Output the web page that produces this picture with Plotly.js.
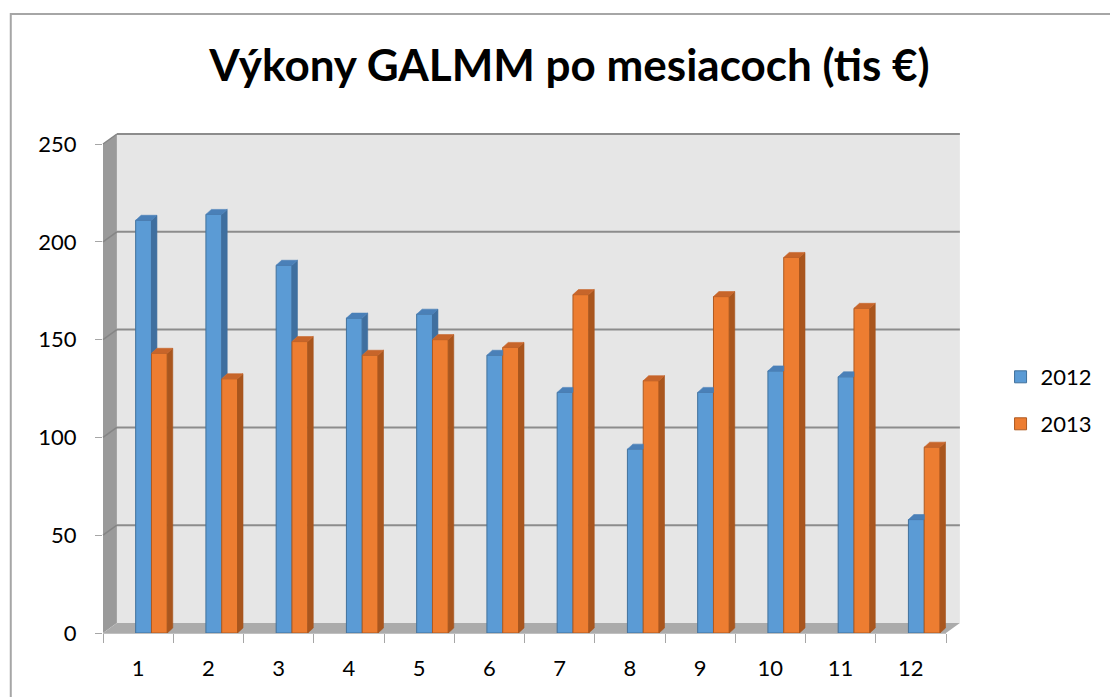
<!DOCTYPE html>
<html>
<head>
<meta charset="utf-8">
<script src="https://cdn.plot.ly/plotly-3.0.1.min.js"></script>
<style>html,body{margin:0;padding:0;background:#fff;}#chart{width:1110px;height:697px;}</style>
</head>
<body>
<div id="chart"></div>
<script>
// ---- data ----
const months = ['1','2','3','4','5','6','7','8','9','10','11','12'];
const sales2012 = [211, 214, 188, 161, 163, 142, 123, 94, 123, 134, 131, 58];
const sales2013 = [143, 130, 149, 142, 150, 146, 173, 129, 172, 192, 166, 95];
const seriesNames = ['2012', '2013'];
const yTicks = [0, 50, 100, 150, 200, 250];
const chartTitle = 'Výkony GALMM po mesiacoch (tis €)';

// ---- geometry (pixels) ----
const L = 103, R = 953, T = 144, B = 633;       // front plot area
const W = R - L, H = B - T;
const wallDX = 14, wallDY = 10;                 // depth of walls
const px = x => (x - L) / W;
const py = y => (B - y) / H;
const yMax = 250;

// bar geometry in data units
const barW = 0.225, off12 = -0.035, off13 = off12 + barW;
const dX = 0.078, dY = 2.56;

const font = 'Lato, "Open Sans", sans-serif';
const c12 = {front: '#5b9bd5', edge: '#41719c', side: '#3f6f9f', top: '#4a80b8'};
const c13 = {front: '#ed7d31', edge: '#ae5a21', side: '#a9561e', top: '#c7652a'};

function sidePoly(vals, off, lowerVals) {
  const xs = [], ys = [];
  vals.forEach((v, i) => {
    const x0 = i + off + barW;
    let lo = 0;
    if (lowerVals) { lo = lowerVals[i]; if (v <= lo) return; }
    xs.push(x0, x0 + dX, x0 + dX, x0, x0, null);
    ys.push(lo, lo + dY, v + dY, v, lo, null);
  });
  return {xs, ys};
}
function topPoly(vals, off, rightVals) {
  const xs = [], ys = [];
  vals.forEach((v, i) => {
    const x0 = i + off, x1 = x0 + barW;
    if (rightVals && rightVals[i] > v) {
      xs.push(x0, x0 + dX, x1, x1, x0, null);
      ys.push(v, v + dY, v + dY, v, v, null);
    } else {
      xs.push(x0, x0 + dX, x1 + dX, x1, x0, null);
      ys.push(v, v + dY, v + dY, v, v, null);
    }
  });
  return {xs, ys};
}

const s12 = sidePoly(sales2012, off12, sales2013);
const t12 = topPoly(sales2012, off12, sales2013);
const s13 = sidePoly(sales2013, off13, null);
const t13 = topPoly(sales2013, off13, null);

function poly(p, col) {
  return {type: 'scatter', mode: 'lines', x: p.xs, y: p.ys, xaxis: 'x2', yaxis: 'y',
    fill: 'toself', fillcolor: col, line: {color: col, width: 0.6},
    showlegend: false, hoverinfo: 'skip', connectgaps: false};
}

const traces = [
  {type: 'bar', name: seriesNames[0], x: months, y: sales2012, offset: off12, width: barW,
   marker: {color: c12.front, line: {color: c12.edge, width: 1}}, legend: 'legend'},
  {type: 'bar', name: seriesNames[1], x: months, y: sales2013, offset: off13, width: barW,
   marker: {color: c13.front, line: {color: c13.edge, width: 1}}, legend: 'legend2'},
  poly(s12, c12.side), poly(t12, c12.top),
  poly(s13, c13.side), poly(t13, c13.top)
];

// ---- walls & gridlines ----
const shapes = [];
shapes.push({type: 'rect', xref: 'paper', yref: 'paper', x0: px(117), x1: px(R + wallDX), y0: py(B - wallDY), y1: py(T - wallDY),
  fillcolor: '#e6e6e6', line: {width: 0}, layer: 'below'});
shapes.push({type: 'path', xref: 'paper', yref: 'paper', layer: 'below',
  path: `M${px(L)},${py(T)} L${px(L + wallDX)},${py(T - wallDY)} L${px(L + wallDX)},${py(B - wallDY)} L${px(L)},${py(B)} Z`,
  fillcolor: '#9a9a9a', line: {width: 0}});
shapes.push({type: 'path', xref: 'paper', yref: 'paper', layer: 'below',
  path: `M${px(L)},${py(B)} L${px(L + wallDX)},${py(B - wallDY)} L${px(R + wallDX)},${py(B - wallDY)} L${px(R)},${py(B)} Z`,
  fillcolor: '#ababab', line: {width: 0}});
yTicks.forEach(v => {
  if (v === 0) return;
  const yf = B - v * H / yMax, yb = yf - wallDY;
  shapes.push({type: 'line', xref: 'paper', yref: 'paper', layer: 'below',
    x0: px(L + wallDX), x1: px(R + wallDX), y0: py(yb), y1: py(yb), line: {color: '#8c8c8c', width: 2}});
  shapes.push({type: 'line', xref: 'paper', yref: 'paper', layer: 'below',
    x0: px(L), x1: px(L + wallDX), y0: py(yf), y1: py(yb), line: {color: '#858585', width: 1.5}});
});
// outer chart border
shapes.push({type: 'rect', xref: 'paper', yref: 'paper', x0: px(10), x1: px(1130), y0: py(14), y1: py(720),
  line: {color: '#a6a6a6', width: 2}, fillcolor: 'rgba(0,0,0,0)', layer: 'below'});

const layout = {
  width: 1110, height: 697,
  margin: {l: L, r: 1110 - R, t: T, b: 697 - B},
  paper_bgcolor: '#ffffff', plot_bgcolor: 'rgba(0,0,0,0)',
  font: {family: font, color: '#000'},
  title: {text: chartTitle, font: {family: font, size: 44, weight: 'bold', color: '#000'},
          x: 0.513, xref: 'container', xanchor: 'center', y: 1 - 66 / 697, yref: 'container', yanchor: 'middle'},
  barmode: 'overlay',
  bargap: 0,
  showlegend: true,
  xaxis: {type: 'category', range: [-0.5, 11.5], tickson: 'boundaries', ticks: 'outside', ticklen: 9,
          tickcolor: '#a6a6a6', tickwidth: 1, showline: true, linecolor: '#c0c0c0', linewidth: 1,
          showgrid: false, zeroline: false, tickfont: {family: font, size: 22, color: '#000'},
          ticklabelstandoff: 16, fixedrange: true},
  xaxis2: {overlaying: 'x', type: 'linear', range: [-0.5, 11.5], visible: false, fixedrange: true},
  yaxis: {range: [0, yMax], tickvals: yTicks, ticks: 'outside', ticklen: 7, tickcolor: '#a6a6a6',
          showgrid: false, zeroline: false, showline: false,
          tickfont: {family: font, size: 22, color: '#000'}, ticklabelstandoff: 14, fixedrange: true},
  legend: {x: px(1008), y: py(377), xanchor: 'left', yanchor: 'middle', xref: 'paper', yref: 'paper',
           font: {family: font, size: 22, color: '#000'}, bgcolor: 'rgba(0,0,0,0)'},
  legend2: {x: px(1008), y: py(424), xanchor: 'left', yanchor: 'middle', xref: 'paper', yref: 'paper',
           font: {family: font, size: 22, color: '#000'}, bgcolor: 'rgba(0,0,0,0)'},
  shapes: shapes
};

Plotly.newPlot('chart', traces, layout, {displayModeBar: false, staticPlot: true});
</script>
</body>
</html>
